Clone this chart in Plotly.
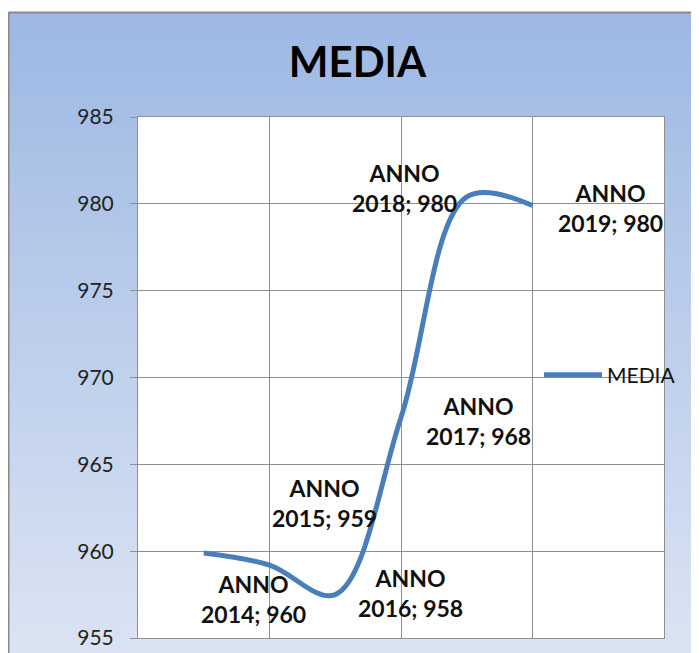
import plotly.graph_objects as go

# ── data ──────────────────────────────────────────────────────────────────────
years = [2014, 2015, 2016, 2017, 2018, 2019]
media = [959.9, 959.2, 957.5, 967.7, 980.4, 979.9]
label_prefix = "ANNO"
series_name = "MEDIA"

# label offsets (px) relative to each point, as Excel placed them
label_shift = [(50, -46), (55, 62), (75, 2), (77, -4), (-62, 9), (78, -2)]

# ── styling ───────────────────────────────────────────────────────────────────
W, H = 699, 653
L, R, T, B = 130, 43, 109, 21
FONT = "Lato, Calibri, 'Open Sans', sans-serif"
GRID = "#8f8f8f"
LINE_BLUE = "#4a7ebb"
TOP_RGB = (157, 184, 227)
BOT_RGB = (220, 228, 243)

plot_w, plot_h = W - L - R, H - T - B


def px_to_paper(px, py):
    # figure pixel -> paper coords
    return (px - L) / plot_w, (H - B - py) / plot_h


fig = go.Figure()
fig.add_trace(go.Scatter(
    x=years, y=media, name=series_name, mode="lines",
    line=dict(color=LINE_BLUE, width=5, shape="spline", smoothing=1),
))

# gradient chart background (bands, each runs to the bottom so no seams)
shapes = []
n = 80
x0, y_top = px_to_paper(0, 4)
x1, y_bot = px_to_paper(W + 5, H + 5)
for i in range(n):
    t = i / (n - 1)
    c = tuple(round(a + (b - a) * t) for a, b in zip(TOP_RGB, BOT_RGB))
    ya = y_top + (y_bot - y_top) * i / n
    shapes.append(dict(type="rect", xref="paper", yref="paper", layer="below",
                       x0=x0, x1=x1, y0=y_bot, y1=ya,
                       fillcolor="rgb(%d,%d,%d)" % c, line=dict(width=0)))
shapes.append(dict(type="rect", xref="x domain", yref="y domain", layer="below",
                   x0=0, x1=1, y0=0, y1=1, fillcolor="white", line=dict(width=0)))
# outer chart border
bx, _ = px_to_paper(0.5, 0)
shapes.append(dict(type="line", xref="paper", yref="paper", layer="above",
                   x0=bx, x1=bx, y0=y_top, y1=y_bot, line=dict(color="#8a8a8a", width=2)))
shapes.append(dict(type="line", xref="paper", yref="paper", layer="above",
                   x0=bx, x1=x1, y0=y_top, y1=y_top, line=dict(color="#8a8a8a", width=2)))

annotations = []
for yr, v, (dx, dy) in zip(years, media, label_shift):
    annotations.append(dict(
        x=yr, y=v, xref="x", yref="y", showarrow=False,
        text="<b>%s<br>%d; %d</b>" % (label_prefix, yr, int(v + 0.5)),
        xshift=dx, yshift=dy, font=dict(family=FONT, size=23, color="#111"),
        align="center",
    ))

fig.update_layout(
    width=W, height=H,
    margin=dict(l=L, r=R, t=T, b=B),
    paper_bgcolor="white",
    plot_bgcolor="rgba(0,0,0,0)",
    title=dict(text="<b>MEDIA</b>", x=349.5 / W, xref="container", xanchor="center",
               y=1 - 54 / H, yref="container", yanchor="middle",
               font=dict(family=FONT, size=42, color="#000")),
    font=dict(family=FONT, color="#222"),
    shapes=shapes,
    annotations=annotations,
    showlegend=True,
    legend=dict(x=(531 - L) / plot_w, xanchor="left", y=(H - B - 368) / plot_h,
                yanchor="middle", bgcolor="rgba(0,0,0,0)",
                font=dict(family=FONT, size=21, color="#111"),
                itemwidth=58),
    xaxis=dict(range=[2013, 2021], dtick=2, tick0=2013, showgrid=True,
               gridcolor=GRID, gridwidth=1, showticklabels=False,
               showline=True, linecolor=GRID, linewidth=1, mirror=True,
               zeroline=False, fixedrange=True),
    yaxis=dict(range=[955, 985], dtick=5, showgrid=True, gridcolor=GRID, gridwidth=1,
               ticks="outside", ticklen=7, tickcolor=GRID, ticklabelstandoff=12,
               tickfont=dict(family=FONT, size=21, color="#222"),
               showline=True, linecolor=GRID, linewidth=1, mirror=True,
               zeroline=False, fixedrange=True),
)

fig.write_html("out.html")
